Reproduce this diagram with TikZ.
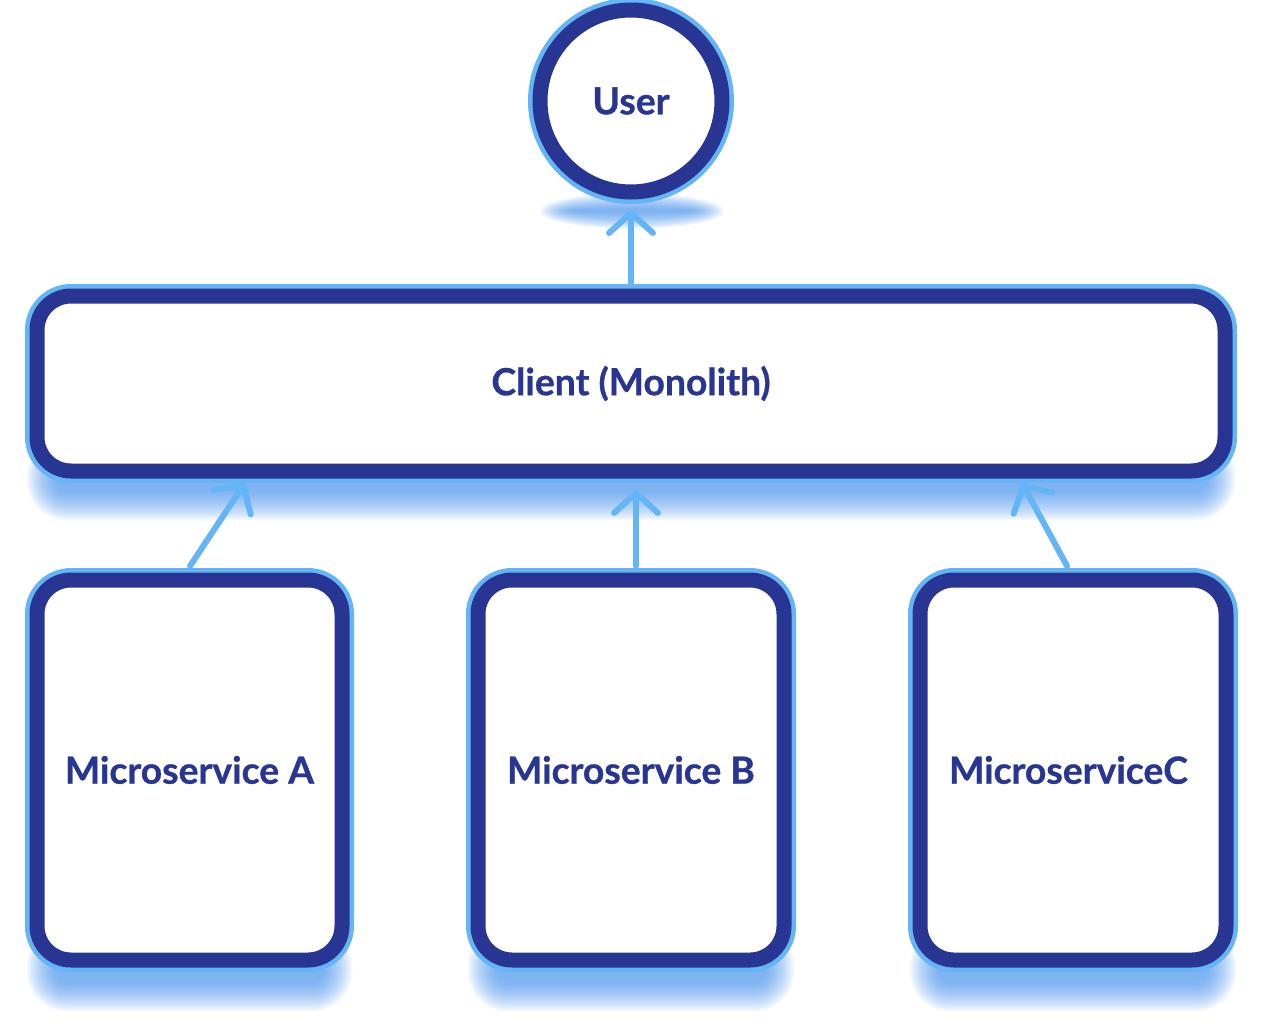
\documentclass[tikz,border=0pt]{standalone}
\usepackage{fontspec}
\setmainfont{Lato}[BoldFeatures={FakeBold=0.8}]
\usetikzlibrary{arrows.meta,calc}
\definecolor{db}{HTML}{283593}
\definecolor{lb}{HTML}{64B5F6}
\definecolor{glowc}{HTML}{3C8AEB}
\newcommand{\glowbar}[4]{%
  \foreach \k in {0,...,19}{%
    \pgfmathsetmacro\rr{12+1.5*\k}%
    \fill[glowc, opacity=0.05, rounded corners=\rr pt] (#1-1.5*\k, #2-1.5*\k) rectangle (#3+1.5*\k, #4+1.5*\k);
  }}
\begin{document}
\begin{tikzpicture}[x=1pt,y=-1pt,
  box/.style={rectangle, rounded corners=34pt, draw=db, line width=15pt, fill=white,
    preaction={draw=lb, line width=24pt}, inner sep=0pt, outer sep=0pt,
    font=\bfseries\fontsize{37.3}{44}\selectfont, text=db},
  arr/.style={draw=lb, line width=6pt, line cap=round,
    -{Straight Barb[length=20pt, width=44pt, round]}}]
\useasboundingbox (0,0) rectangle (1263,1025);
% glows
\foreach \k in {0,...,23}{%
  \fill[glowc, opacity=0.042] (632,211) ellipse ({60+1.4*\k} and {2+0.7*\k});
}
\glowbar{55}{465}{1207}{492}
\glowbar{55}{955}{324}{983}
\glowbar{496}{955}{766}{983}
\glowbar{938}{955}{1208}{983}
% nodes
\node[box, circle, minimum size=182pt] (user) at (631,101) {User};
\node[box, minimum width=1188pt, minimum height=175pt] (client) at (631,383.5) {Client (Monolith)};
\node[box, minimum width=305pt, minimum height=380pt] (msA) at (189.5,770) {Microservice A};
\node[box, minimum width=306pt, minimum height=380pt] (msB) at (631,770) {Microservice B};
\node[box, minimum width=306pt, minimum height=380pt] (msC) at (1073,770) {MicroserviceC\kern9pt};
% connectors
\draw[arr] ($(client.north)+(0,-12)$) -- ($(user.south)+(0,18)$);
\draw[arr] ($(msA.north)+(0.5,-14)$) -- ($(msA.north |- client.south)+(55.5,12)$);
\draw[arr] ($(msB.north)+(5,-14)$) -- ($(msB.north |- client.south)+(5,19)$);
\draw[arr] ($(msC.north)+(-6,-14)$) -- ($(msC.north |- client.south)+(-51,12)$);
\end{tikzpicture}
\end{document}
